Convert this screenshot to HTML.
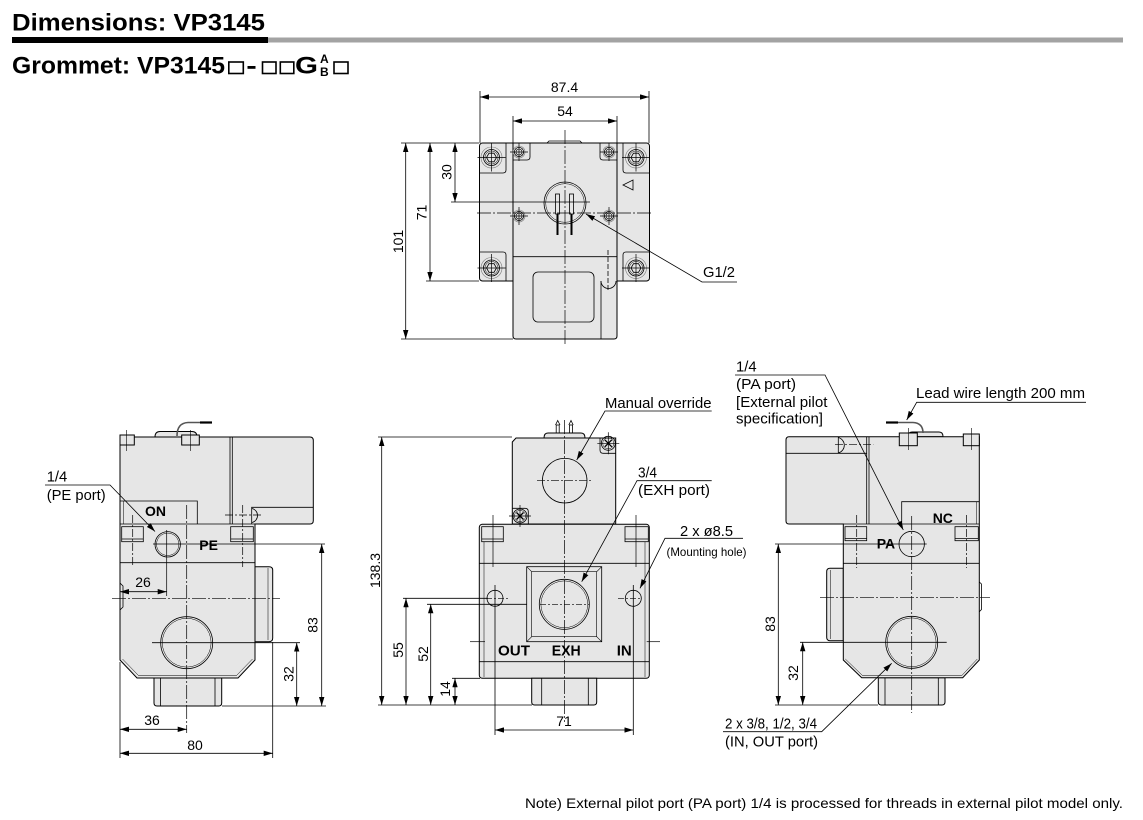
<!DOCTYPE html>
<html><head><meta charset="utf-8">
<style>
html,body{margin:0;padding:0;background:#fff;}
svg{display:block;}
text{font-family:"Liberation Sans",Arial,sans-serif;fill:#000;}
</style></head><body>
<svg width="1143" height="820" viewBox="0 0 1143 820" xmlns="http://www.w3.org/2000/svg">
<defs>
<marker id="a" viewBox="0 0 10 6" refX="10" refY="3" markerWidth="9" markerHeight="5.4" markerUnits="userSpaceOnUse" orient="auto-start-reverse"><path d="M0,0L10,3L0,6z" fill="#000"/></marker>
<g id="bs" fill="none" stroke="#000">
 <circle r="10.5" stroke-width="0.6" stroke="#777"/>
 <circle r="8" stroke-width="0.8"/>
 <circle r="6.6" stroke-width="0.5"/>
 <polygon points="5,0 2.5,4.33 -2.5,4.33 -5,0 -2.5,-4.33 2.5,-4.33" stroke-width="0.8"/>
 <path d="M-14,0H14M0,-14V14" stroke-width="0.7"/>
</g>
<g id="ss" fill="none" stroke="#000">
 <circle r="6" stroke="#777" stroke-width="0.6"/>
 <circle r="4.6" stroke-width="0.8"/>
 <circle r="3" stroke-width="0.6"/>
 <path d="M-9,0H9M0,-9V9" stroke-width="0.7"/>
</g>
<g id="xs" fill="none" stroke="#000">
 <circle r="7" stroke-width="0.8"/>
 <circle r="5.6" stroke-width="0.5"/>
 <path d="M-3.5,-3.5L3.5,3.5M-3.5,3.5L3.5,-3.5" stroke-width="1.3"/>
 <path d="M-11,0H11M0,-11V11" stroke-width="0.7"/>
</g>
</defs>

<!-- HEADER -->
<text x="12" y="30.5" font-size="24" font-weight="bold" textLength="253" lengthAdjust="spacingAndGlyphs">Dimensions: VP3145</text>
<rect x="12" y="37" width="256" height="6" fill="#000"/>
<rect x="268" y="37.5" width="855" height="5" fill="#a3a3a3"/>
<text x="12" y="73.5" font-size="24" font-weight="bold" textLength="213" lengthAdjust="spacingAndGlyphs">Grommet: VP3145</text>
<g fill="none" stroke="#000" stroke-width="1.6">
<rect x="228.8" y="62" width="14.5" height="11.5"/>
<rect x="262.5" y="62" width="13.5" height="11.5"/>
<rect x="280.3" y="62" width="13.5" height="11.5"/>
<rect x="334" y="62" width="14" height="11.5"/>
</g>
<rect x="247.5" y="66" width="8" height="2.8" fill="#000"/>
<text x="295" y="73.5" font-size="24" font-weight="bold" textLength="23" lengthAdjust="spacingAndGlyphs">G</text>
<text x="320" y="63" font-size="12" font-weight="bold">A</text>
<text x="320" y="76" font-size="12" font-weight="bold">B</text>

<!-- ================= TOP VIEW ================= -->
<g stroke="#000" stroke-width="1" fill="#e6e6e6">
<rect x="479.5" y="143" width="170" height="138" rx="3"/>
<path d="M513,143 L513,336 Q513,339 516,339 L614,339 Q617,339 617,336 L617,143 Z"/>
</g>
<g stroke="#000" stroke-width="0.8" fill="none">
<path d="M547,143 L549,141 L580,141 L582,143"/>
<line x1="513" y1="256.7" x2="617" y2="256.7"/>
<path d="M479.5,173 L503,173 Q506,173 506,170 L506,143"/>
<path d="M649.5,173 L626,173 Q623,173 623,170 L623,143"/>
<path d="M479.5,252 L503,252 Q506,252 506,255 L506,281"/>
<path d="M649.5,252 L626,252 Q623,252 623,255 L623,281"/>
<path d="M513,160 L527,160 Q530,160 530,157 L530,143"/>
<path d="M617,160 L603,160 Q600,160 600,157 L600,143"/>
<circle cx="565" cy="203" r="21"/>
<circle cx="565" cy="203" r="19.3" stroke-width="0.5"/>
<rect x="555.5" y="194" width="4" height="20"/>
<rect x="569.5" y="194" width="4" height="20"/>
<polygon points="633,180 633,190 623,185"/>
<rect x="533" y="272" width="61" height="50" rx="5"/>
<line x1="601" y1="281" x2="601" y2="339"/>
<path d="M601,281 A7.5,7.5 0 0 0 616,281"/>
<line x1="608" y1="250" x2="608" y2="292" stroke-dasharray="5 2"/>
</g>
<g stroke="#000" stroke-width="2">
<line x1="557.5" y1="214" x2="557.5" y2="235"/>
<line x1="571.5" y1="214" x2="571.5" y2="235"/>
</g>
<use href="#bs" x="491.5" y="157.5"/>
<use href="#bs" x="636" y="157.5"/>
<use href="#bs" x="491.5" y="268"/>
<use href="#bs" x="636" y="268"/>
<use href="#ss" x="519" y="152"/>
<use href="#ss" x="609" y="152"/>
<use href="#ss" x="519" y="216"/>
<use href="#ss" x="609" y="216"/>
<g stroke="#000" stroke-width="0.7" fill="none">
<line x1="565" y1="130" x2="565" y2="346" stroke-dasharray="14 2 2 2"/>
<line x1="477" y1="213" x2="652" y2="213" stroke-dasharray="14 2 2 2"/>
</g>
<g stroke="#000" stroke-width="0.8" fill="none">
<line x1="480" y1="97" x2="649" y2="97" marker-start="url(#a)" marker-end="url(#a)"/>
<line x1="480" y1="91" x2="480" y2="143"/>
<line x1="649" y1="91" x2="649" y2="143"/>
<line x1="513" y1="121" x2="617" y2="121" marker-start="url(#a)" marker-end="url(#a)"/>
<line x1="513" y1="116" x2="513" y2="143"/>
<line x1="617" y1="116" x2="617" y2="143"/>
<line x1="455" y1="143" x2="455" y2="202" marker-start="url(#a)" marker-end="url(#a)"/>
<line x1="430" y1="143" x2="430" y2="281" marker-start="url(#a)" marker-end="url(#a)"/>
<line x1="405.7" y1="143" x2="405.7" y2="339" marker-start="url(#a)" marker-end="url(#a)"/>
<line x1="401" y1="143" x2="479" y2="143"/>
<line x1="451" y1="202" x2="590" y2="202"/>
<line x1="426" y1="281" x2="479" y2="281"/>
<line x1="401" y1="339" x2="513" y2="339"/>
<polyline points="737,282 702,282 586,214" marker-end="url(#a)"/>
</g>
<g font-size="14" text-anchor="middle">
<text x="564.5" y="92">87.4</text>
<text x="565" y="116">54</text>
<text transform="translate(451.5,172) rotate(-90)">30</text>
<text transform="translate(426.5,212.5) rotate(-90)">71</text>
<text transform="translate(403,241.5) rotate(-90)">101</text>
</g>
<text x="703" y="277" font-size="15" textLength="32" lengthAdjust="spacingAndGlyphs">G1/2</text>

<!-- ================= LEFT VIEW ================= -->
<g stroke="#000" stroke-width="1" fill="#e6e6e6">
<path d="M155,437 Q155,431.5 160,431.5 L192,431.5 Q197,431.5 197,437 Z"/>
<path d="M255,566.7 L269,566.7 Q272.7,566.7 272.7,570 L272.7,638 Q272.7,641.7 269,641.7 L255,641.7 Z"/>
<path d="M154,678 L154,703 Q154,706 157,706 L218.7,706 Q221.7,706 221.7,703 L221.7,678 Z"/>
<path d="M120,437 L310,437 Q313.3,437 313.3,440.5 L313.3,520.5 Q313.3,524 310,524 L255,524 L255,660 L238,678 L137,678 L120,660 Z"/>
<rect x="120" y="435" width="14.3" height="10"/>
<rect x="181.7" y="435" width="17.6" height="10"/>
</g>
<path d="M177,436 Q177,423 188,422.5 L212,422.5" stroke="#555" stroke-width="1.6" fill="none"/>
<line x1="200" y1="422.5" x2="212" y2="422.5" stroke="#000" stroke-width="2.2"/>
<g stroke="#000" stroke-width="0.8" fill="none">
<line x1="160.5" y1="678" x2="160.5" y2="706"/>
<line x1="215" y1="678" x2="215" y2="706"/>
<path d="M122.5,659 L138.5,675.5 L236.5,675.5 L252.5,659" stroke-width="0.5"/>
<path d="M120,583 L123,586 L123,607 L120,610"/>
<line x1="230" y1="437" x2="230" y2="524"/>
<line x1="232.3" y1="437" x2="232.3" y2="524"/>
<path d="M251.7,524 L251.7,507.3 L313.3,507.3"/>
<path d="M252,508.5 A7.2,7.2 0 0 1 252,522.5"/>
<path d="M120,501 L197.3,501 L197.3,524"/>
<line x1="123.3" y1="501" x2="123.3" y2="524" stroke-width="0.5"/>
<line x1="120" y1="524" x2="255" y2="524"/>
<rect x="121.7" y="526.7" width="21.6" height="15"/>
<line x1="121.7" y1="539" x2="143.3" y2="539"/>
<rect x="230.7" y="526.7" width="22.6" height="15"/>
<line x1="230.7" y1="539" x2="253.3" y2="539"/>
<line x1="120" y1="562.7" x2="255" y2="562.7"/>
<circle cx="167.7" cy="544.3" r="12.7"/>
<circle cx="167.7" cy="544.3" r="11.2" stroke-width="0.5"/>
<circle cx="186.7" cy="642.7" r="26"/>
<circle cx="186.7" cy="642.7" r="24.4" stroke-width="0.5"/>
<line x1="126.7" y1="430" x2="126.7" y2="451" stroke-width="0.6"/>
<line x1="190.7" y1="430" x2="190.7" y2="451" stroke-width="0.6"/>
<line x1="268" y1="568" x2="268" y2="640" stroke-width="0.5"/>
</g>
<g stroke="#000" stroke-width="0.7" fill="none">
<line x1="132.7" y1="515" x2="132.7" y2="567" stroke-dasharray="8 2 2 2"/>
<line x1="242.7" y1="505" x2="242.7" y2="567" stroke-dasharray="8 2 2 2"/>
<line x1="225" y1="515" x2="262" y2="515" stroke-dasharray="8 2 2 2"/>
<line x1="186.7" y1="505" x2="186.7" y2="733" stroke-dasharray="14 2 2 2"/>
<line x1="112" y1="598.3" x2="280" y2="598.3" stroke-dasharray="14 2 2 2"/>
<line x1="166.7" y1="530" x2="166.7" y2="596"/>
</g>
<g stroke="#000" stroke-width="0.8" fill="none">
<line x1="153" y1="544" x2="325" y2="544"/>
<line x1="152" y1="642.7" x2="300" y2="642.7"/>
<line x1="222" y1="706" x2="326" y2="706"/>
<line x1="120" y1="662" x2="120" y2="758"/>
<line x1="272.7" y1="642" x2="272.7" y2="758"/>
<line x1="120" y1="591.7" x2="166.7" y2="591.7" marker-start="url(#a)" marker-end="url(#a)"/>
<line x1="120" y1="729.3" x2="186.7" y2="729.3" marker-start="url(#a)" marker-end="url(#a)"/>
<line x1="120" y1="753.3" x2="272.7" y2="753.3" marker-start="url(#a)" marker-end="url(#a)"/>
<line x1="321.7" y1="544" x2="321.7" y2="706" marker-start="url(#a)" marker-end="url(#a)"/>
<line x1="296.7" y1="642.7" x2="296.7" y2="706" marker-start="url(#a)" marker-end="url(#a)"/>
<polyline points="45,485 110,485 155,531.5" marker-end="url(#a)"/>
</g>
<g font-size="14" text-anchor="middle">
<text x="143" y="587">26</text>
<text x="152" y="725">36</text>
<text x="195" y="750">80</text>
<text transform="translate(317.3,625) rotate(-90)">83</text>
<text transform="translate(293.3,674) rotate(-90)">32</text>
</g>
<text x="46.7" y="481.5" font-size="15" textLength="20.6" lengthAdjust="spacingAndGlyphs">1/4</text>
<text x="46.7" y="500" font-size="15" textLength="59" lengthAdjust="spacingAndGlyphs">(PE port)</text>
<text x="145" y="516" font-size="14" font-weight="bold">ON</text>
<text x="199.3" y="550" font-size="14" font-weight="bold">PE</text>

<!-- ================= CENTER VIEW ================= -->
<g stroke="#000" stroke-width="1" fill="#e6e6e6">
<path d="M544,438 Q544,433 548,433 L581,433 Q585,433 585,438 Z"/>
<path d="M512.3,442 L516,438 L615.7,438 L615.7,524 L512.3,524 Z"/>
<rect x="479.3" y="524.3" width="170" height="154" rx="3"/>
<path d="M531.7,678.3 L531.7,702 Q531.7,705 534.7,705 L593.7,705 Q596.7,705 596.7,702 L596.7,678.3 Z"/>
</g>
<g stroke="#000" stroke-width="0.8" fill="none">
<rect x="556.2" y="425" width="3" height="8"/>
<rect x="569.5" y="425" width="3" height="8"/>
<path d="M555.5,425 L557.7,420.5 L560,425 M568.8,425 L571,420.5 L573.2,425"/>
<path d="M600,438 L600,450 Q600,453.3 603.3,453.3 L615.7,453.3"/>
<path d="M512.3,508.3 L525,508.3 Q528.3,508.3 528.3,511.6 L528.3,524"/>
<circle cx="564.7" cy="480.7" r="22.3"/>
<line x1="479.3" y1="563.3" x2="649.3" y2="563.3"/>
<line x1="479.3" y1="661.7" x2="649.3" y2="661.7"/>
<line x1="484" y1="541.7" x2="484" y2="677" stroke-width="0.5"/>
<line x1="645" y1="541.7" x2="645" y2="677" stroke-width="0.5"/>
<rect x="481.7" y="526.7" width="21.6" height="15"/>
<line x1="481.7" y1="539" x2="503.3" y2="539"/>
<rect x="625" y="526.7" width="23.3" height="15"/>
<line x1="625" y1="539" x2="648.3" y2="539"/>
<rect x="526.7" y="566.7" width="75" height="75"/>
<rect x="531.7" y="571.7" width="65" height="65" stroke-width="0.6"/>
<path d="M526.7,566.7 L531.7,571.7 M601.7,566.7 L596.7,571.7 M526.7,641.7 L531.7,636.7 M601.7,641.7 L596.7,636.7" stroke-width="0.6"/>
<circle cx="564.3" cy="604.3" r="25"/>
<circle cx="564.3" cy="604.3" r="23.4" stroke-width="0.5"/>
<circle cx="495" cy="598.3" r="8"/>
<circle cx="633.3" cy="598.3" r="8"/>
<line x1="541.7" y1="678.3" x2="541.7" y2="705"/>
<line x1="588.3" y1="678.3" x2="588.3" y2="705"/>
</g>
<use href="#xs" x="608.3" y="443.3"/>
<use href="#xs" x="520" y="516"/>
<g stroke="#000" stroke-width="0.7" fill="none">
<line x1="564.5" y1="420" x2="564.5" y2="722" stroke-dasharray="14 2 2 2"/>
<line x1="537" y1="480.7" x2="592" y2="480.7" stroke-dasharray="8 2 2 2"/>
<line x1="493" y1="515" x2="493" y2="567"/>
<line x1="636" y1="515" x2="636" y2="567"/>
<line x1="486" y1="598.3" x2="510" y2="598.3" stroke-dasharray="6 2 2 2"/>
<line x1="618" y1="598.3" x2="642" y2="598.3" stroke-dasharray="6 2 2 2"/>
<line x1="470" y1="641.7" x2="485" y2="641.7"/>
<line x1="646.7" y1="641.7" x2="660" y2="641.7"/>
<line x1="540" y1="604.3" x2="589" y2="604.3" stroke-dasharray="6 2 2 2"/>
</g>
<g stroke="#000" stroke-width="0.8" fill="none">
<line x1="495" y1="585" x2="495" y2="735"/>
<line x1="633.3" y1="585" x2="633.3" y2="735"/>
<line x1="378" y1="437" x2="512" y2="437"/>
<line x1="403" y1="598.3" x2="488" y2="598.3"/>
<line x1="427" y1="604.3" x2="527" y2="604.3"/>
<line x1="452" y1="678.3" x2="480" y2="678.3"/>
<line x1="378" y1="705" x2="532" y2="705"/>
<line x1="381.7" y1="437" x2="381.7" y2="705" marker-start="url(#a)" marker-end="url(#a)"/>
<line x1="406" y1="598.3" x2="406" y2="705" marker-start="url(#a)" marker-end="url(#a)"/>
<line x1="430.7" y1="604.3" x2="430.7" y2="705" marker-start="url(#a)" marker-end="url(#a)"/>
<line x1="455" y1="678.3" x2="455" y2="705" marker-start="url(#a)" marker-end="url(#a)"/>
<line x1="495" y1="730" x2="633.3" y2="730" marker-start="url(#a)" marker-end="url(#a)"/>
<polyline points="711.7,411 605,411 576.7,460" marker-end="url(#a)"/>
<polyline points="711.7,480.7 637,480.7 581.7,581.7" marker-end="url(#a)"/>
<polyline points="743,538.3 665,538.3 640,588.3" marker-end="url(#a)"/>
</g>
<g font-size="14" text-anchor="middle">
<text transform="translate(380,570.5) rotate(-90)">138.3</text>
<text transform="translate(403,650) rotate(-90)">55</text>
<text transform="translate(428,654) rotate(-90)">52</text>
<text transform="translate(450,689) rotate(-90)">14</text>
<text x="564" y="726">71</text>
</g>
<text x="605" y="408" font-size="15" textLength="106.5" lengthAdjust="spacingAndGlyphs">Manual override</text>
<text x="638" y="477.5" font-size="15" textLength="19" lengthAdjust="spacingAndGlyphs">3/4</text>
<text x="638" y="495" font-size="15" textLength="72" lengthAdjust="spacingAndGlyphs">(EXH port)</text>
<text x="680" y="536" font-size="15" textLength="53" lengthAdjust="spacingAndGlyphs">2 x ø8.5</text>
<text x="666.5" y="556" font-size="12" textLength="80" lengthAdjust="spacingAndGlyphs">(Mounting hole)</text>
<text x="498" y="655.5" font-size="15" font-weight="bold" textLength="32" lengthAdjust="spacingAndGlyphs">OUT</text>
<text x="551.7" y="655.5" font-size="15" font-weight="bold" textLength="29" lengthAdjust="spacingAndGlyphs">EXH</text>
<text x="616.7" y="655.5" font-size="15" font-weight="bold" textLength="15" lengthAdjust="spacingAndGlyphs">IN</text>

<!-- ================= RIGHT VIEW ================= -->
<g stroke="#000" stroke-width="1" fill="#e6e6e6">
<path d="M908,436.7 Q908,432 912,432 L939,432 Q943,432 943,436.7 Z"/>
<path d="M843.3,568.3 L830,568.3 Q826.7,568.3 826.7,571.6 L826.7,637.4 Q826.7,640.7 830,640.7 L843.3,640.7 Z"/>
<path d="M878.3,677.7 L878.3,702 Q878.3,705 881.3,705 L942,705 Q945,705 945,702 L945,677.7 Z"/>
<path d="M789,436.7 L979.3,436.7 L979.3,660 L962.7,677.7 L861.7,677.7 L843.3,660 L843.3,524 L789,524 Q786,524 786,521 L786,440 Q786,436.7 789,436.7 Z"/>
<rect x="899.3" y="433" width="18" height="12.7"/>
<rect x="963.3" y="434" width="16" height="11.7"/>
</g>
<path d="M923,433 Q923,423 913,422.5 L888,422.5" stroke="#555" stroke-width="1.6" fill="none"/>
<line x1="886" y1="422.5" x2="898" y2="422.5" stroke="#000" stroke-width="2.2"/>
<g stroke="#000" stroke-width="0.8" fill="none">
<line x1="885" y1="677.7" x2="885" y2="705"/>
<line x1="938.3" y1="677.7" x2="938.3" y2="705"/>
<path d="M845.3,659 L862.5,675.5 L961.8,675.5 L977.3,659" stroke-width="0.5"/>
<path d="M979.3,582 L981.5,584 L981.5,609.5 L979.3,611.7"/>
<line x1="786" y1="453.3" x2="866.7" y2="453.3"/>
<line x1="866.7" y1="436.7" x2="866.7" y2="524"/>
<line x1="869" y1="436.7" x2="869" y2="524"/>
<line x1="838.3" y1="436.7" x2="838.3" y2="453.3"/>
<path d="M838.3,437.5 A8,8 0 0 1 838.3,453"/>
<path d="M901.7,524 L901.7,501.7 L979.3,501.7"/>
<line x1="976.7" y1="501.7" x2="976.7" y2="524" stroke-width="0.5"/>
<line x1="843.3" y1="524" x2="979.3" y2="524"/>
<rect x="845" y="526.7" width="21.7" height="14"/>
<line x1="845" y1="538.5" x2="866.7" y2="538.5"/>
<rect x="955" y="526.7" width="23.3" height="14"/>
<line x1="955" y1="538.5" x2="978.3" y2="538.5"/>
<line x1="843.3" y1="563.3" x2="979.3" y2="563.3"/>
<circle cx="911.7" cy="544" r="12.7"/>
<circle cx="911.7" cy="642.3" r="26"/>
<circle cx="911.7" cy="642.3" r="24.4" stroke-width="0.5"/>
<line x1="830.5" y1="570" x2="830.5" y2="639" stroke-width="0.5"/>
<line x1="908.3" y1="428" x2="908.3" y2="450" stroke-width="0.6"/>
<line x1="971.3" y1="428" x2="971.3" y2="450" stroke-width="0.6"/>
</g>
<g stroke="#000" stroke-width="0.7" fill="none">
<line x1="835" y1="444.3" x2="873.3" y2="444.3" stroke-dasharray="8 2 2 2"/>
<line x1="856.7" y1="515" x2="856.7" y2="568" stroke-dasharray="8 2 2 2"/>
<line x1="966.5" y1="515" x2="966.5" y2="568" stroke-dasharray="8 2 2 2"/>
<line x1="911.7" y1="516" x2="911.7" y2="713" stroke-dasharray="14 2 2 2"/>
<line x1="820" y1="597.7" x2="990" y2="597.7" stroke-dasharray="14 2 2 2"/>
</g>
<g stroke="#000" stroke-width="0.8" fill="none">
<line x1="775" y1="544" x2="926.7" y2="544"/>
<line x1="800" y1="642.3" x2="946.7" y2="642.3"/>
<line x1="775" y1="705" x2="878" y2="705"/>
<line x1="778.3" y1="544" x2="778.3" y2="705" marker-start="url(#a)" marker-end="url(#a)"/>
<line x1="802.7" y1="642.3" x2="802.7" y2="705" marker-start="url(#a)" marker-end="url(#a)"/>
<polyline points="735,375 825,375 903.3,530" marker-end="url(#a)"/>
<polyline points="1086,402.3 916.7,402.3 906.7,420" marker-end="url(#a)"/>
<polyline points="723,731.7 821.7,731.7 891.7,663.3" marker-end="url(#a)"/>
</g>
<g font-size="14" text-anchor="middle">
<text transform="translate(775,624) rotate(-90)">83</text>
<text transform="translate(798,673) rotate(-90)">32</text>
</g>
<text x="876.7" y="548.5" font-size="14" font-weight="bold">PA</text>
<text x="932.7" y="523" font-size="14" font-weight="bold">NC</text>
<text x="736" y="371.5" font-size="15" textLength="20.6" lengthAdjust="spacingAndGlyphs">1/4</text>
<text x="736" y="389" font-size="15" textLength="60" lengthAdjust="spacingAndGlyphs">(PA port)</text>
<text x="736" y="407" font-size="15" textLength="91.5" lengthAdjust="spacingAndGlyphs">[External pilot</text>
<text x="736" y="423.5" font-size="15" textLength="87" lengthAdjust="spacingAndGlyphs">specification]</text>
<text x="916" y="398" font-size="15" textLength="169" lengthAdjust="spacingAndGlyphs">Lead wire length 200 mm</text>
<text x="725" y="728.5" font-size="15" textLength="92" lengthAdjust="spacingAndGlyphs">2 x 3/8, 1/2, 3/4</text>
<text x="725" y="746.5" font-size="15" textLength="93" lengthAdjust="spacingAndGlyphs">(IN, OUT port)</text>

<!-- NOTE -->
<text x="525" y="808" font-size="14" textLength="598" lengthAdjust="spacingAndGlyphs">Note) External pilot port (PA port) 1/4 is processed for threads in external pilot model only.</text>
</svg>
</body></html>
